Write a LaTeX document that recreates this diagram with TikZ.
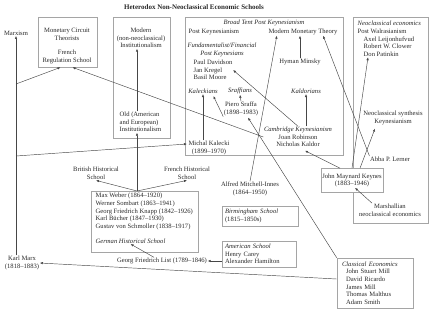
\documentclass[tikz,border=0pt]{standalone}
\usepackage{fontspec}
\setmainfont{Liberation Serif}
\usetikzlibrary{arrows.meta,calc,positioning}
\definecolor{BoxGray}{RGB}{165,165,165}
\definecolor{LineGray}{RGB}{70,70,70}
\definecolor{InkGray}{RGB}{40,40,40}
\newcommand{\lblfont}{\fontsize{6.6}{7.7}\selectfont}

\begin{document}
\begin{tikzpicture}[x=1pt,y=-1pt,>={Latex[length=3pt,width=2.4pt]},
    lbl/.style={font=\lblfont,text=InkGray,inner sep=0.5pt,align=center},
    ilbl/.style={lbl,font=\lblfont\itshape},
    grp/.style={draw=BoxGray,line width=0.7pt,inner sep=0pt},
    link/.style={->,draw=LineGray,line width=0.45pt}]
      \useasboundingbox (0,0) rectangle (430,316);
      \node[font=\bfseries\fontsize{7}{8}\selectfont,text=InkGray] (title) at (194,7) {Heterodox Non-Neoclassical Economic Schools};
      % group boxes
      \node[grp,minimum width=59pt,minimum height=50pt] (mcbox) at (67.5,42) {};
      \node[grp,minimum width=57pt,minimum height=121pt] (instbox) at (141.5,77.5) {};
      \node[grp,minimum width=158pt,minimum height=138pt] (pkbox) at (264,86) {};
      \node[grp,minimum width=75pt,minimum height=206pt] (neobox) at (390.5,120) {};
      \node[grp,minimum width=107pt,minimum height=61pt] (gerbox) at (144.5,221.5) {};
      % left side
      \node[lbl] (marxism) at (16,33) {Marxism};
      \node[lbl] (marx) at (22,263) {Karl Marx\\(1818--1883)};
      \node[lbl] (mc) at (67,34) {Monetary Circuit\\Theorists};
      \node[lbl] (frs) at (67,57) {French\\Regulation School};
      \node[lbl] (modern) at (141,38) {Modern\\(non-neoclassical)\\Institutionalism};
      \node[lbl,align=left,anchor=west] (oldinst) at (119,122) {Old (American\\and European)\\Institutionalism};
      \node[lbl] (british) at (96,173.5) {British Historical\\School};
      \node[lbl] (french) at (187,173.5) {French Historical\\School};
      \node[lbl,align=left,anchor=west] (gernames) at (95,211.5) {Max Weber (1864--1920)\\Werner Sombart (1863--1941)\\Georg Friedrich Knapp (1842--1926)\\Karl Bücher (1847--1930)\\Gustav von Schmoller (1838--1917)};
      \node[ilbl,anchor=west] (ghs) at (95,241) {German Historical School};
      \node[lbl] (list) at (162,261) {Georg Friedrich List (1789--1846)};
      % post keynesian box
      \node[ilbl] (broadtent) at (264,23) {Broad Tent Post Keynesianism};
      \node[lbl,anchor=west] (pk) at (188,32) {Post Keynesianism};
      \node[lbl] (mmt) at (303,32) {Modern Monetary Theory};
      \node[ilbl] (fund) at (222,50) {Fundamentalist/Financial\\Post Keynesians};
      \node[lbl,align=left,anchor=west] (pkpeople) at (193,70) {Paul Davidson\\Jan Kregel\\Basil Moore};
      \node[lbl] (minsky) at (300,62) {Hyman Minsky};
      \node[ilbl] (kaleckians) at (203,91) {Kaleckians};
      \node[ilbl] (sraffians) at (240,91) {Sraffians};
      \node[ilbl] (kaldorians) at (306,91) {Kaldorians};
      \node[lbl] (sraffa) at (241,109) {Piero Sraffa\\(1898--1983)};
      \node[lbl] (kalecki) at (209,148) {Michal Kalecki\\(1899--1970)};
      \node[lbl] (cambridge) at (298,137) {\textit{Cambridge Keynesianism}\\Joan Robinson\\Nicholas Kaldor};
      % neoclassical box
      \node[ilbl,anchor=west] (neo) at (357,23) {Neoclassical economics};
      \node[lbl,anchor=west] (pw) at (357,31) {Post Walrasianism};
      \node[lbl,align=left,anchor=west] (pwpeople) at (363,46.5) {Axel Leijonhufvud\\Robert W. Clower\\Don Patinkin};
      \node[lbl] (nsk) at (393,118) {Neoclassical synthesis\\Keynesianism};
      \node[lbl] (lerner) at (390,159) {Abba P. Lerner};
      \node[lbl] (marsh) at (390,210) {Marshallian\\neoclassical economics};
      \node[lbl,draw=BoxGray,line width=0.7pt,fill=white,minimum width=62pt,minimum height=24pt] (keynes) at (352,180.5) {John Maynard Keynes\\(1883--1946)};
      % lower middle
      \node[lbl] (mitchell) at (250,189) {Alfred Mitchell-Innes\\(1864--1950)};
      \node[grp,lbl,align=left,text width=70pt,minimum width=76pt,minimum height=20pt] (birm) at (260,216) {\textit{Birmingham School}\\(1815--1850s)};
      \node[grp,lbl,align=left,text width=68pt,minimum width=74pt,minimum height=26pt] (amer) at (259,254) {\textit{American School}\\Henry Carey\\Alexander Hamilton};
      \node[grp,lbl,align=left,text width=66pt,minimum width=76pt,minimum height=50pt] (classic) at (375,283) {\textit{Classical Economics}\\\hspace*{4pt}John Stuart Mill\\\hspace*{4pt}David Ricardo\\\hspace*{4pt}James Mill\\\hspace*{4pt}Thomas Malthus\\\hspace*{4pt}Adam Smith};
      % connectors
      \coordinate (mxa) at (16,84);
      \coordinate (mxb) at (16,156);
      \coordinate (gertop) at (137,191);
      \draw[link] (marx.north -| marxism.south) -- (marxism.south);
      \draw[link] (mxa) -- ($(mcbox.south)+(-7,0)$);
      \draw[link] (mxb) -- ($(kalecki.west)+(-1,-4)$);
      \draw[link] (gertop) -- (british.south);
      \draw[link] (gertop) -- (french.south);
      \draw[link] (gertop) -- (gertop |- oldinst.south);
      \draw[link] (gertop |- oldinst.north) -- (gertop |- modern.south);
      \draw[link] (minsky.north) -- (minsky.north |- mmt.south);
      \draw[link] (sraffa.north) -- (sraffians.south);
      \draw[link] (sraffa.south west) -- ($(kaleckians.south east)+(-5,2)$);
      \draw[link] (kaleckians.south |- kalecki.north) -- (kaleckians.south);
      \draw[link] (kaldorians.south |- cambridge.north) -- (kaldorians.south);
      \draw[link] (cambridge.north) -- (pkpeople.east);
      \draw[link] (cambridge.west) -- ($(mcbox.south)+(5,0)$);
      \draw[link] ($(keynes.north)+(-12,0)$) -- ($(cambridge.south)+(7,3)$);
      \draw[link] (keynes.north) -- ($(pwpeople.south west)+(5,0)$);
      \draw[link] ($(keynes.north)+(8,0)$) -- ($(nsk.south)+(-18,3)$);
      \draw[link] (lerner.north west) -- ($(mmt.south east)+(-15,0)$);
      \draw[link] ($(marsh.north)+(-18,0)$) -- ($(keynes.south)+(3,-5)$);
      \draw[link] (mitchell.north) -- ($(mmt.south west)+(9,0)$);
      \draw[link] (classic.north west) -- ($(sraffa.south)+(7,1)$);
      \draw[link] ($(classic.west)+(0,-4)$) -- (marx.east);
      \draw[link] (amer.west |- list.east) -- (list.east);
      \draw[link] ($(list.north)+(-8,0)$) -- (ghs.south);
    \end{tikzpicture}
\end{document}
